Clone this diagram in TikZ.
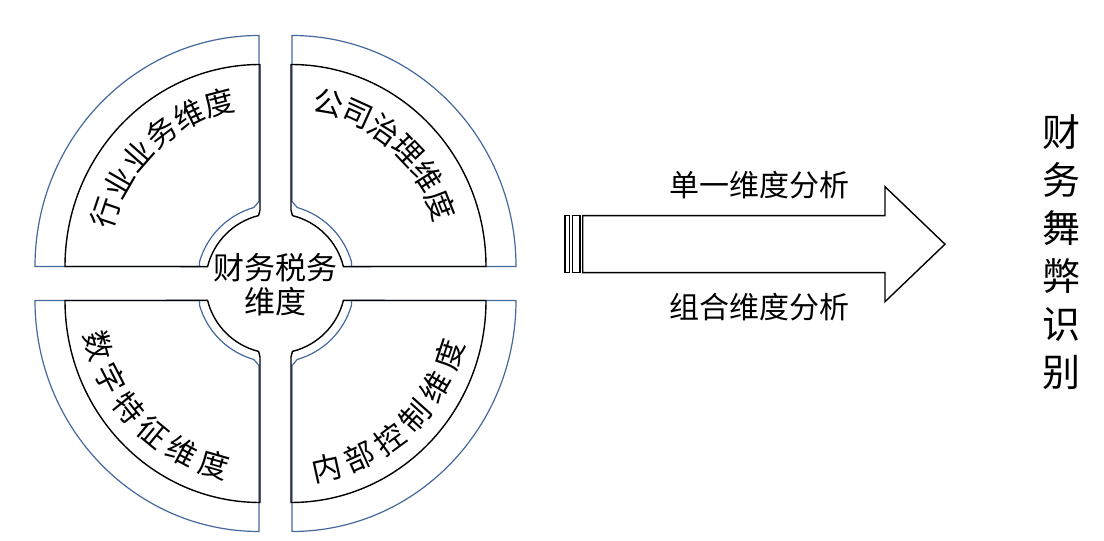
\documentclass[tikz,border=0pt]{standalone}
\usepackage{fontspec}
\newfontfamily\cjk{Noto Sans CJK SC}
\definecolor{rimblue}{RGB}{68,104,158}
\tikzset{
  rim/.style={draw=rimblue, line width=1.2pt},
  blockedge/.style={draw=black, line width=1.4pt},
  arcchar/.style={font=\cjk\fontsize{30}{30}\selectfont, inner sep=0pt},
  label/.style={font=\cjk\fontsize{30}{34}\selectfont, inner sep=0pt, align=center},
}

\begin{document}
\begin{tikzpicture}[x=1pt,y=1pt]
        \useasboundingbox (0,0) rectangle (1104,541);
        % four quarter blocks round the centre
        \foreach \sx/\sy in {1/1,-1/1,-1/-1,1/-1}{
            \begin{scope}[shift={(275.5,257.5)},xscale=\sx,yscale=\sy]
                \draw[rim] (16.5,248) arc[start angle=90,end angle=0,x radius=224,y radius=231] -- (76,17) -- (16:79) arc[start angle=16,end angle=74,radius=79] -- (16.5,82) -- cycle;
                \draw[blockedge] (15.5,219) arc[start angle=90,end angle=0,x radius=195,y radius=202] -- (14:70) arc[start angle=14,end angle=76,radius=70] -- (15.5,73.5) -- cycle;
            \end{scope}
        }
        \node[label, font=\cjk\fontsize{31}{34}\selectfont] (cw) at (275.5,256) {财务税务\\维度};
        % curved labels
        \foreach \ch [count=\i from 0] in {行,业,业,务,维,度}{
            \pgfmathsetmacro\a{161.5-11.4*\i}
            \node[arcchar, rotate=\a-90] (hy\i) at ([shift={(260,274.5)}]\a:163 and 169) {\ch};
        }
        \foreach \ch [count=\i from 0] in {公,司,治,理,维,度}{
            \pgfmathsetmacro\a{76.5-11*\i}
            \node[arcchar, rotate=\a-90] (gz\i) at ([shift={(291,274.5)}]\a:161 and 168) {\ch};
        }
        \foreach \ch [count=\i from 0] in {数,字,特,征,维,度}{
            \pgfmathsetmacro\a{195.5+11.7*\i}
            \node[arcchar, rotate=\a+90] (sz\i) at ([shift={(260,240.5)}]\a:168 and 171) {\ch};
        }
        \foreach \ch [count=\i from 0] in {内,部,控,制,维,度}{
            \pgfmathsetmacro\a{-77.5+11.85*\i}
            \node[arcchar, rotate=\a+90] (nk\i) at ([shift={(291,240.5)}]\a:167 and 172) {\ch};
        }
        % the big arrow
        \draw[blockedge] (565,268.3) rectangle (569.3,325.3);
        \draw[blockedge] (572.7,268.3) rectangle (580,325.3);
        \draw[blockedge] (582.7,268.3) -- (582.7,325.3) -- (885,325.3) -- (885,354.3) -- (945,296.8) -- (885,239.3) -- (885,268.3) -- cycle;
        \node[label] (single) at (759,356) {单一维度分析};
        \node[label] (combo) at (759,234) {组合维度分析};
        \node[label, font=\cjk\fontsize{38}{48}\selectfont] (goal) at (1061,289) {财\\务\\舞\\弊\\识\\别};
\end{tikzpicture}
\end{document}
